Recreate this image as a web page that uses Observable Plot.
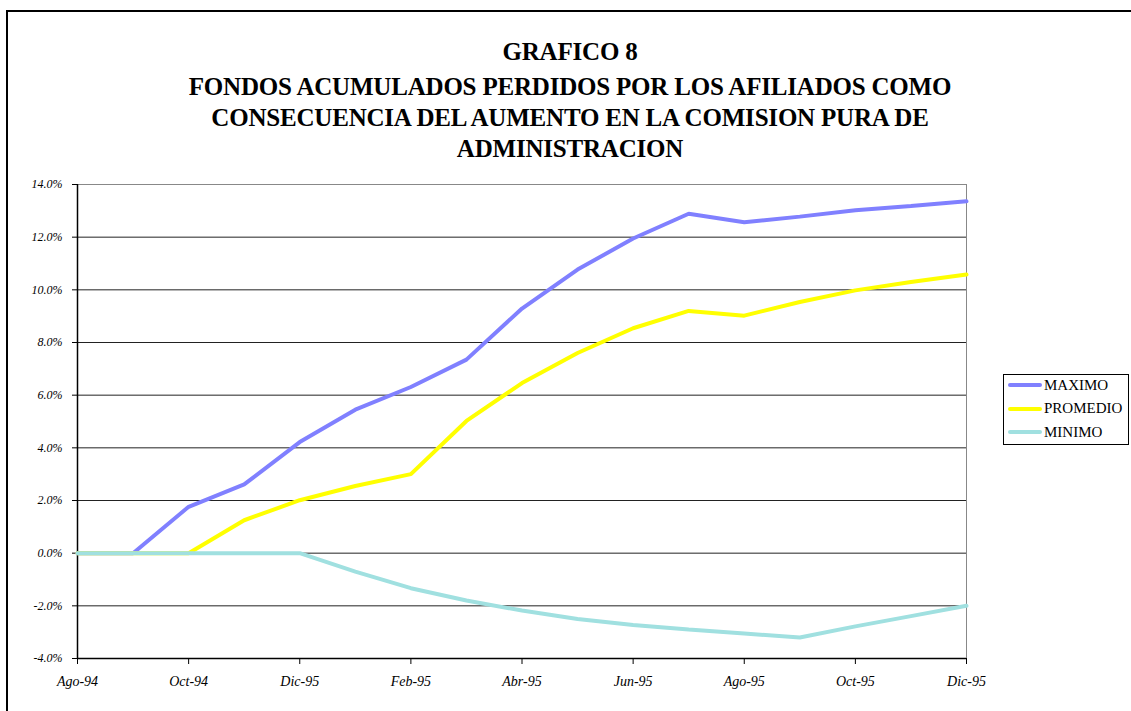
<!DOCTYPE html>
<html><head><meta charset="utf-8">
<script src="https://cdn.jsdelivr.net/npm/d3@7"></script>
<script src="https://cdn.jsdelivr.net/npm/@observablehq/plot@0.6"></script>
<style>
body{margin:0;background:#fff;}
#page{position:relative;width:1131px;height:711px;overflow:hidden;background:#fff;}
#frame{position:absolute;left:6px;top:10px;width:1300px;height:900px;border-left:2px solid #000;border-top:2px solid #000;}
#title{position:absolute;left:0;top:36px;width:1140px;text-align:center;font-family:"Liberation Serif","Times New Roman",serif;font-weight:bold;font-size:25px;line-height:31px;color:#000;letter-spacing:-0.2px;}
#title .first{margin-bottom:4px;}
#chart{position:absolute;left:0;top:170px;}
#legend{position:absolute;left:1003px;top:374px;width:124px;height:69px;border:1px solid #000;background:#fff;font-family:"Liberation Serif","Times New Roman",serif;font-size:15px;}
#legend .item{position:absolute;left:4px;height:20px;display:flex;align-items:center;}
#legend .sw{width:34px;height:4px;border-radius:2px;margin-right:2px;}
</style>
</head><body>
<div id="page">
  <div id="frame"></div>
  <div id="title"><div class="first">GRAFICO 8</div>FONDOS ACUMULADOS PERDIDOS POR LOS AFILIADOS COMO<br>CONSECUENCIA DEL AUMENTO EN LA COMISION PURA DE<br>ADMINISTRACION</div>
  <div id="chart"></div>
  <div id="legend"></div>
</div>
<script>
const months = ["Ago-94","Sep-94","Oct-94","Nov-94","Dic-94","Ene-95","Feb-95","Mar-95","Abr-95","May-95","Jun-95","Jul-95","Ago-95","Sep-95","Oct-95","Nov-95","Dic-95"];
const tickLabels = ["Ago-94","Oct-94","Dic-95","Feb-95","Abr-95","Jun-95","Ago-95","Oct-95","Dic-95"];
const maximo   = [0, 0, 1.76, 2.61, 4.22, 5.45, 6.31, 7.35, 9.29, 10.77, 11.95, 12.89, 12.57, 12.78, 13.02, 13.18, 13.36];
const promedio = [0, 0, 0, 1.25, 2.01, 2.55, 3.00, 5.02, 6.46, 7.60, 8.54, 9.20, 9.02, 9.54, 9.98, 10.30, 10.58];
const minimo   = [0, 0, 0, 0, 0, -0.70, -1.33, -1.80, -2.18, -2.50, -2.73, -2.90, -3.05, -3.20, -2.78, -2.39, -2.00];
const seriesNames = ["MAXIMO","PROMEDIO","MINIMO"];
const seriesColors = ["#8080ff","#ffff00","#a0e0e0"];
const seriesValues = [maximo, promedio, minimo];
const yTicks = [-4,-2,0,2,4,6,8,10,12,14];

const tickIdx = tickLabels.map((_, i) => months.indexOf(months[i*2]));
const gridDark = yTicks.filter(v => v > -4 && v < 14);
const gridTop = [14];

const lineMarks = seriesNames.map((name, s) =>
  Plot.line(seriesValues[s].map((v, i) => ({i, v})), {x: "i", y: "v", stroke: seriesColors[s], strokeWidth: 4, strokeLinejoin: "miter"})
);

const chart = Plot.plot({
  width: 1131,
  height: 541,
  marginLeft: 77,
  marginRight: 165,
  marginTop: 14,
  marginBottom: 53,
  style: {fontFamily: "'Liberation Serif', serif", fontStyle: "italic", fontSize: "12px", background: "transparent", color: "#000"},
  x: {domain: [0, months.length - 1]},
  y: {domain: [-4, 14]},
  marks: [
    Plot.ruleY(gridDark, {stroke: "#222", strokeWidth: 1}),
    Plot.ruleY(gridTop, {stroke: "#888", strokeWidth: 1}),
    Plot.ruleX([months.length - 1], {stroke: "#888", strokeWidth: 1}),
    Plot.axisY({ticks: yTicks, tickSize: 5, tickPadding: 10, tickFormat: d => d.toFixed(1) + "%", label: null, stroke: "#000"}),
    Plot.axisX({ticks: tickIdx, tickSize: 6, tickPadding: 12, tickFormat: d => tickLabels[tickIdx.indexOf(d)], label: null, fontSize: 14, stroke: "#000"}),
    Plot.ruleX([0], {stroke: "#000", strokeWidth: 1.5}),
    Plot.ruleY([-4], {stroke: "#000", strokeWidth: 1.5}),
    ...lineMarks
  ]
});
document.getElementById("chart").appendChild(chart);

const legend = document.getElementById("legend");
seriesNames.forEach((name, s) => {
  const it = document.createElement("div");
  it.className = "item";
  it.style.top = (0 + s * 23.5) + "px";
  it.innerHTML = `<span class="sw" style="background:${seriesColors[s]}"></span><span>${name}</span>`;
  legend.appendChild(it);
});
</script>
</body></html>
